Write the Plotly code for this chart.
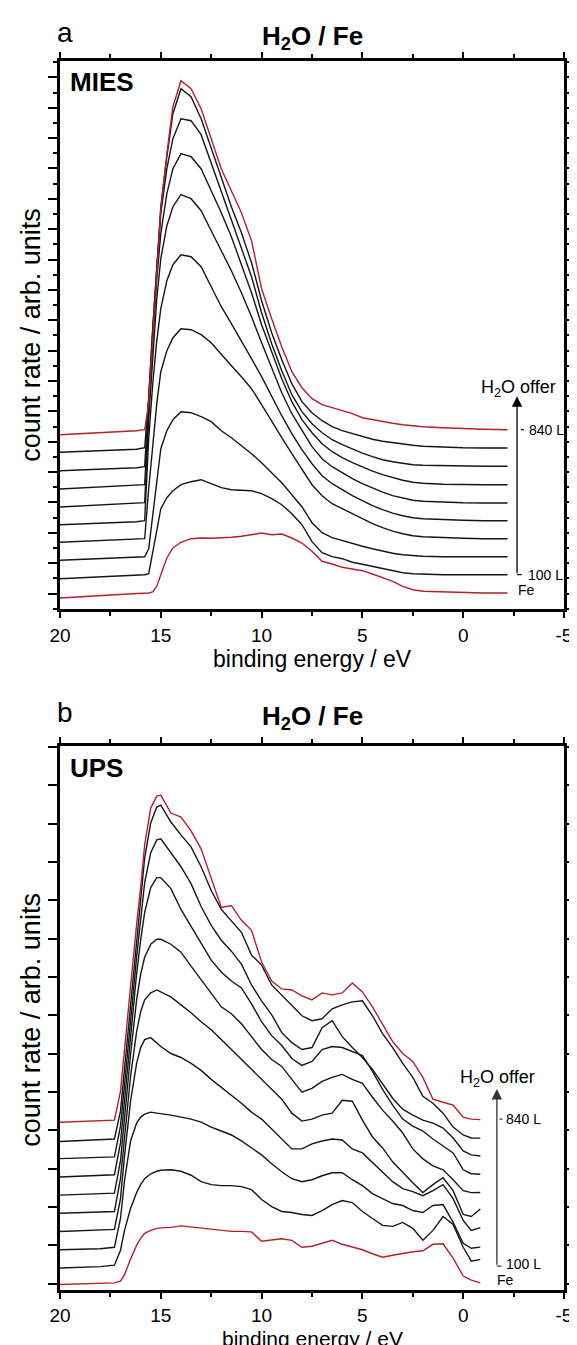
import plotly.graph_objects as go

# ---------------- data : panel a (MIES) ----------------
mies_energy = [20, 18, 16.2, 15.8, 15.6, 15.4, 15.2, 15.0, 14.7, 14.4, 14.0, 13.5, 13.0,
               12.5, 12.0, 11.5, 11.0, 10.5, 10.0, 9.5, 9.0, 8.5, 8.0, 7.5, 7.0, 6.5,
               6.0, 5.5, 5.0, 4.5, 4.0, 3.5, 3.0, 2.5, 2.0, 1.0, 0.0, -1.0, -2.2]

mies_fe = [10.7, 13.4, 15.2, 15.5, 15.7, 16.7, 22.4, 34, 50.7, 60.7, 66.4, 70, 70.7, 70.5,
           70.7, 71.5, 72.4, 74, 75.7, 74, 74.7, 70.7, 65.7, 57.4, 47.4, 44.7, 41.4, 39.7,
           38, 34.7, 31.4, 27.4, 22.4, 19, 17.4, 16.7, 16.4, 15.7, 15.7]
mies_100L = [30, 32, 33.5, 34, 35, 55, 78, 100, 111, 118, 124, 127, 129, 125, 121, 119,
             118.5, 118, 115, 110, 104, 95, 84, 67, 56, 52, 50, 46.5, 44.5, 42.5, 40.5, 38,
             36, 35, 34.5, 34, 34, 34, 34]
mies_2 = [48.4, 50, 51.5, 52, 60, 95, 130, 160, 178, 189, 197, 196, 192, 187, 178, 171, 163,
          155, 146, 136, 126, 114, 102, 86, 76, 71, 68, 65, 62.5, 60, 57.5, 55.5, 54, 53,
          52.5, 52, 52, 52, 52]
mies_3 = [66.4, 68, 69.5, 70, 120, 165, 205, 237, 258, 271, 280, 279, 274, 266, 254, 243,
          232, 220, 204, 187, 171, 155, 139, 124, 113, 105, 100, 95, 90, 85, 81, 77.5, 75,
          73, 72, 71, 70.5, 70, 70]
mies_4 = [84, 85.5, 87, 88, 170, 225, 268, 300, 328, 344, 354, 352, 342, 322, 302, 285, 268,
          250, 232, 212, 193, 175, 159, 145, 133, 125, 119, 113, 108, 103, 99, 95.5, 93, 91,
          90, 89, 88.5, 88, 88]
mies_5 = [101.7, 103.5, 105, 106, 190, 255, 310, 350, 383, 402, 414, 410, 398, 378, 358, 338,
          316, 292, 266, 240, 216, 195, 178, 162, 150, 142, 136, 130, 125, 120.5, 116.5, 113,
          110.5, 108.5, 107.5, 106.5, 106, 105.7, 105.7]
mies_6 = [119.7, 121.5, 123, 124, 200, 270, 330, 375, 415, 440, 455, 452, 440, 418, 396, 372,
          345, 316, 284, 256, 230, 207, 189, 176, 165, 157, 151, 146, 141.5, 137.5, 134, 131,
          128.5, 126.5, 125.5, 124.5, 124, 124, 124]
mies_7 = [138, 139.5, 141, 142, 215, 280, 340, 395, 440, 470, 490, 488, 474, 446, 418, 390,
          362, 332, 296, 265, 238, 214, 197, 185, 176, 169, 164, 159.5, 155.5, 152, 149, 147,
          145.5, 144, 143.5, 143, 142.5, 142.4, 142.4]
mies_8 = [156.4, 158, 159.5, 161, 210, 280, 345, 402, 452, 495, 520, 512, 490, 460, 430, 402,
          376, 346, 308, 276, 249, 225, 207, 196, 188, 182, 178, 175, 172, 169.5, 167.5, 166,
          164.5, 163.5, 162.5, 161.5, 161, 160.7, 160.7]
mies_840L = [174, 176, 178, 179, 205, 270, 335, 400, 455, 502, 528, 520, 500, 470, 440, 418,
             396, 368, 320, 290, 262, 237, 221, 210, 204, 201, 198, 195, 191, 189, 187, 185.5,
             184, 183, 182, 181, 180, 179.5, 179]

# ---------------- data : panel b (UPS) ----------------
ups_energy = [20, 18, 17.3, 17.0, 16.8, 16.5, 16.2, 16.0, 15.8, 15.5, 15.2, 15.0, 14.5, 14.0,
              13.5, 13.0, 12.5, 12.0, 11.5, 11.0, 10.5, 10.0, 9.5, 9.0, 8.5, 8.0, 7.5, 7.0,
              6.5, 6.0, 5.5, 5.0, 4.5, 4.0, 3.5, 3.0, 2.5, 2.0, 1.5, 1.0, 0.5, 0.0, -0.4, -0.85]

ups_fe = [5.5, 6.5, 7.2, 9, 15.5, 31, 45, 52, 57, 60, 62, 62.5, 63, 64.5, 63.5, 62, 61, 60, 59,
          59, 58.5, 49, 50, 51.5, 50, 43, 44, 47, 50, 46, 43, 40.5, 36.5, 33, 35, 37, 38.5,
          39.5, 46, 46.5, 32, 14, 10, 7.2]
ups_100L = [22.2, 23.5, 25, 40, 60, 82, 98, 106, 112, 117, 119.5, 120.5, 121, 119.5, 115.5,
            109, 106, 105, 105, 104, 101, 91, 84, 79, 78, 76, 75, 80, 86, 90, 88, 79, 72, 65,
            64, 68, 62, 50, 60, 74, 66, 43, 29, 30.8]
ups_2 = [40.5, 41.5, 43, 72, 110, 150, 168, 174, 177, 179, 178, 177.5, 176, 174, 172, 169, 164,
         160, 156, 150, 143, 136, 127, 119, 112, 109, 111, 115, 118, 118, 111, 105, 97, 92, 87,
         85, 80, 78, 85, 86, 68, 47, 42, 43.2]
ups_3 = [58.8, 60, 61, 92, 135, 190, 228, 244, 252, 254, 248, 245, 238, 234, 228, 221, 212, 204,
         196, 188, 179, 172, 162, 152, 142, 142, 147, 150, 152, 151, 142, 138, 128, 118, 109,
         102, 99, 95, 100, 106, 92, 70, 60, 62.8]
ups_4 = [77.2, 78, 79, 112, 155, 215, 260, 280, 292, 299, 302, 300, 295, 287, 279, 270, 262,
         252, 242, 232, 222, 212, 202, 192, 178, 170, 172, 176, 178, 191, 190, 171, 154, 143,
         129, 118, 108, 98, 106, 113, 100, 76, 74, 81.5]
ups_5 = [95.5, 96.5, 97.5, 130, 172, 237, 292, 318, 335, 348, 353, 353, 348, 340, 326, 312, 299,
         285, 278, 268, 255, 242, 232, 225, 212, 199, 203, 210, 214, 217, 212, 208, 194, 181,
         170, 158, 142, 132, 125, 121, 111, 100, 98, 98.2]
ups_6 = [113.8, 115, 116, 148, 190, 255, 318, 352, 380, 405, 415, 415, 404, 383, 366, 348, 332,
         320, 311, 304, 288, 270, 256, 246, 233, 226, 230, 242, 245, 244, 240, 236, 220, 202,
         186, 172, 165, 160, 152, 145, 138, 121, 117, 116.5]
ups_7 = [132.2, 133, 134, 165, 205, 270, 335, 375, 410, 440, 453, 454, 440, 426, 409, 386, 367,
         352, 341, 328, 307, 291, 277, 259, 249, 242, 244, 264, 271, 255, 244, 234, 222, 208,
         193, 182, 176, 171, 168, 163, 153, 140, 136, 134.8]
ups_8 = [149.5, 151, 152, 180, 222, 285, 350, 395, 435, 470, 486, 488, 471, 458, 446, 426, 402,
         383, 371, 360, 337, 327, 307, 297, 287, 276, 271, 273, 283, 287, 290, 291, 276, 258,
         244, 228, 214, 195, 188, 178, 164, 156, 153, 152.8]
ups_840L = [168.8, 170, 171, 200, 243, 305, 368, 405, 448, 485, 497, 498, 480, 476, 462, 444,
            415, 385, 387, 372, 362, 330, 311, 303, 302, 296, 292, 299, 297, 299, 309, 300, 285,
            268, 250, 238, 230, 214, 192, 189, 186, 174, 172, 171.5]

x_tick_values = [20, 15, 10, 5, 0, -5]
x_tick_labels = ["20", "15", "10", "5", "0", "-5"]
x_minor_values = [17.5, 12.5, 7.5, 2.5, -2.5]

# ---------------- styling ----------------
FONT = "Liberation Sans, Arial, Helvetica, sans-serif"
RED = "#b5202a"
BLACK = "#161616"

fig = go.Figure()

mies_series = [mies_fe, mies_100L, mies_2, mies_3, mies_4, mies_5, mies_6, mies_7, mies_8, mies_840L]
ups_series = [ups_fe, ups_100L, ups_2, ups_3, ups_4, ups_5, ups_6, ups_7, ups_8, ups_840L]

for i, ys in enumerate(mies_series):
    col = RED if i in (0, len(mies_series) - 1) else BLACK
    fig.add_trace(go.Scatter(x=mies_energy, y=ys, mode="lines", xaxis="x", yaxis="y",
                             line=dict(color=col, width=1.4), showlegend=False, hoverinfo="skip"))
for i, ys in enumerate(ups_series):
    col = RED if i in (0, len(ups_series) - 1) else BLACK
    fig.add_trace(go.Scatter(x=ups_energy, y=ys, mode="lines", xaxis="x2", yaxis="y2",
                             line=dict(color=col, width=1.4), showlegend=False, hoverinfo="skip"))

axis_common = dict(showline=True, linecolor="black", linewidth=2.7, mirror="allticks",
                   ticks="outside", tickcolor="black", tickwidth=2.4, showgrid=False,
                   zeroline=False)

def xaxis(anchor, standoff):
    return dict(domain=[0, 1], range=[20, -5], anchor=anchor, tickmode="array",
                tickvals=x_tick_values, ticktext=x_tick_labels, ticklen=6,
                ticklabelstandoff=standoff,
                tickfont=dict(size=19, family=FONT, color="black"),
                minor=dict(tickvals=x_minor_values, ticklen=4, tickwidth=2.4,
                           tickcolor="black", ticks="outside"),
                **axis_common)

fig.update_layout(
    width=577, height=1345,
    margin=dict(l=52, r=9, t=53, b=63),
    paper_bgcolor="white", plot_bgcolor="white",
    font=dict(family=FONT, color="black"),
    xaxis=xaxis("y", 2),
    xaxis2=xaxis("y2", 0),
    yaxis=dict(domain=[0.55435, 1], range=[0, 547.7], anchor="x", tickmode="linear",
               tick0=15.18, dtick=30.36, ticklen=9, showticklabels=False,
               minor=dict(tick0=0, dtick=15.18, ticklen=4.5, tickwidth=2.4,
                          tickcolor="black", ticks="outside"),
               **axis_common),
    yaxis2=dict(domain=[0, 0.4424], range=[0, 547.2], anchor="x2", tickmode="linear",
                tick0=6.2, dtick=38.6, ticklen=9, showticklabels=False, **axis_common),
)

ann = []
def txt(text, x, y, size, xref="paper", yref="paper", xanchor="center", yanchor="middle",
        textangle=0, color="black"):
    ann.append(dict(text=text, x=x, y=y, xref=xref, yref=yref, xanchor=xanchor,
                    yanchor=yanchor, showarrow=False, textangle=textangle,
                    font=dict(size=size, family=FONT, color=color)))

# panel letters and titles
txt("a", -0.01, 1.0228, 28, xanchor="left")
txt("b", -0.01, 0.4695, 28, xanchor="left")
txt("<b>H<sub>2</sub>O / Fe</b>", 0.5, 1.0195, 26)
txt("<b>H<sub>2</sub>O / Fe</b>", 0.5, 0.4662, 26)
txt("<b>MIES</b>", 0.016, 0.983, 26, xanchor="left")
txt("<b>UPS</b>", 0.016, 0.4247, 26, xanchor="left")
# axis titles
txt("binding energy / eV", 0.5, 0.5134, 23)
txt("binding energy / eV", 0.5, -0.0391, 21)
txt("count rate / arb. units", -0.058, 0.777, 27, textangle=-90)
txt("count rate / arb. units", -0.058, 0.2197, 27, textangle=-90)

# right-hand dose annotations, panel a
txt("H<sub>2</sub>O offer", -2.72, 220.7, 18, xref="x", yref="y")
txt("840 L", -3.16, 179, 14, xref="x", yref="y", xanchor="left")
txt("100 L", -3.1, 34, 14, xref="x", yref="y", xanchor="left")
txt("Fe", -2.6, 18.7, 14, xref="x", yref="y", xanchor="left")
ann.append(dict(x=-2.67, y=212.4, ax=-2.67, ay=34, xref="x", yref="y", axref="x", ayref="y",
                showarrow=True, arrowhead=2, arrowsize=1.6, arrowwidth=1.3,
                arrowcolor="black", text="", standoff=0, startstandoff=0))
# panel b
txt("H<sub>2</sub>O offer", -1.71, 212.5, 18, xref="x2", yref="y2")
txt("840 L", -2.04, 172, 14, xref="x2", yref="y2", xanchor="left")
txt("100 L", -2.04, 26, 14, xref="x2", yref="y2", xanchor="left")
txt("Fe", -1.56, 10, 14, xref="x2", yref="y2", xanchor="left")
ann.append(dict(x=-1.67, y=202.2, ax=-1.67, ay=24, xref="x2", yref="y2", axref="x2", ayref="y2",
                showarrow=True, arrowhead=2, arrowsize=1.6, arrowwidth=1.3,
                arrowcolor="#333333", text="", standoff=0, startstandoff=0))
fig.update_layout(annotations=ann)

shapes = [
    dict(type="line", xref="x", yref="y", x0=-2.67, x1=-2.9, y0=34, y1=34,
         line=dict(color="black", width=1.2)),
    dict(type="line", xref="x", yref="y", x0=-2.86, x1=-3.02, y0=179, y1=179,
         line=dict(color="black", width=1.2)),
    dict(type="line", xref="x2", yref="y2", x0=-1.67, x1=-1.9, y0=24, y1=24,
         line=dict(color="#333333", width=1.2)),
    dict(type="line", xref="x2", yref="y2", x0=-1.8, x1=-1.95, y0=172, y1=172,
         line=dict(color="#333333", width=1.2)),
]
fig.update_layout(shapes=shapes)

fig.write_html("out.html")
